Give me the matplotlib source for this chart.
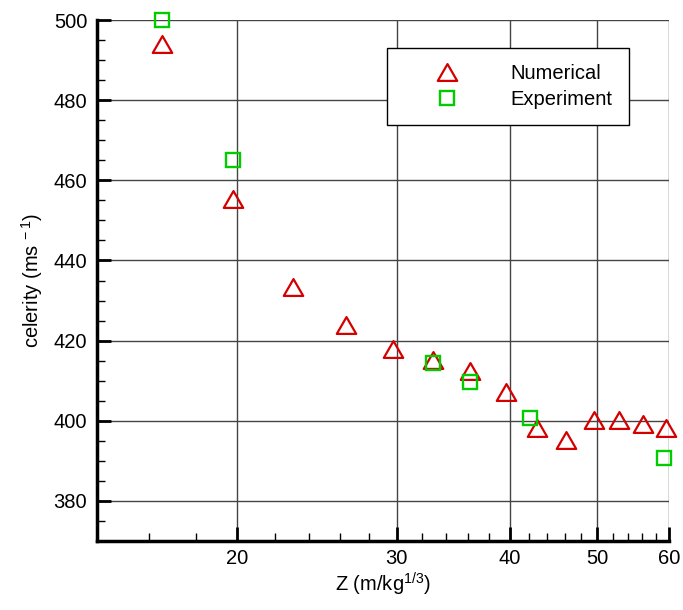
import numpy as np
import matplotlib
matplotlib.use("Agg")
import matplotlib.pyplot as plt
from matplotlib.path import Path
from matplotlib.ticker import FixedLocator, NullFormatter, FixedFormatter

plt.rcParams['font.family'] = ['Liberation Sans', 'DejaVu Sans']
plt.rcParams['mathtext.default'] = 'regular'

# Numerical results
z_num = [16.5, 19.8, 23.05, 26.4, 29.7, 32.9, 36.2, 39.6, 42.9, 46.2, 49.6, 52.8, 56.2, 59.5]
c_num = [494.0, 455.3, 433.4, 423.9, 418.0, 415.1, 412.5, 407.3, 398.1, 395.1, 400.1, 400.2, 399.1, 398.1]

# Experimental data
z_exp = [16.5, 19.8, 32.9, 36.2, 42.1, 59.2]
c_exp = [500.0, 465.1, 414.4, 409.8, 400.8, 390.7]

x_major = [20, 30, 40, 50, 60]
x_minor = [v for v in range(16, 60, 2) if v not in x_major]
y_major = [380, 400, 420, 440, 460, 480, 500]
y_minor = list(range(370, 500, 5))

# equilateral-ish triangle, wider than tall like the reference
tri = Path([(0, 0.866), (-1, -0.866), (1, -0.866), (0, 0.866)],
           [Path.MOVETO, Path.LINETO, Path.LINETO, Path.CLOSEPOLY])

fig = plt.figure(figsize=(6.83, 6.10), dpi=100)
ax = fig.add_axes([0.142, 0.1131, 0.8375, 0.8541])

red = '#d40000'
green = '#00cc00'
fs = 14.5

ax.plot(z_num, c_num, linestyle='none', marker=tri, markersize=14,
        markerfacecolor='none', markeredgecolor=red, markeredgewidth=1.6,
        label='Numerical', clip_on=False, zorder=3)
ax.plot(z_exp, c_exp, linestyle='none', marker='s', markersize=10,
        markerfacecolor='none', markeredgecolor=green, markeredgewidth=1.7,
        label='Experiment', clip_on=False, zorder=4)

ax.set_xscale('log')
ax.set_xlim(14, 60)
ax.set_ylim(370, 500)

ax.xaxis.set_major_locator(FixedLocator(x_major))
ax.xaxis.set_major_formatter(FixedFormatter([str(v) for v in x_major]))
ax.xaxis.set_minor_locator(FixedLocator(x_minor))
ax.xaxis.set_minor_formatter(NullFormatter())
ax.yaxis.set_major_locator(FixedLocator(y_major))
ax.yaxis.set_minor_locator(FixedLocator(y_minor))

ax.grid(True, which='major', color='#444444', linewidth=1.0)
ax.set_axisbelow(True)

ax.tick_params(which='major', direction='in', length=10, width=2, labelsize=fs,
               color='black')
ax.tick_params(which='minor', direction='in', length=6, width=1, color='black')
ax.tick_params(axis='x', which='major', pad=6)
ax.tick_params(axis='y', which='major', pad=7)

ax.spines['top'].set_visible(False)
ax.spines['right'].set_visible(False)
ax.spines['left'].set_linewidth(2.5)
ax.spines['bottom'].set_linewidth(2.5)

ax.set_xlabel('Z (m/kg$^{1/3}$)', fontsize=fs, labelpad=2)
ax.set_ylabel('celerity (ms$^{\\,-1}$)', fontsize=fs, labelpad=6)

leg = ax.legend(loc='upper left', bbox_to_anchor=(0.507, 0.946), fontsize=fs,
                fancybox=False, framealpha=1, edgecolor='black',
                borderpad=0.8, handlelength=4.4, handletextpad=0.95,
                labelspacing=0.32, borderaxespad=0)
leg.get_frame().set_linewidth(1.0)

fig.savefig('out.png', dpi=100)
